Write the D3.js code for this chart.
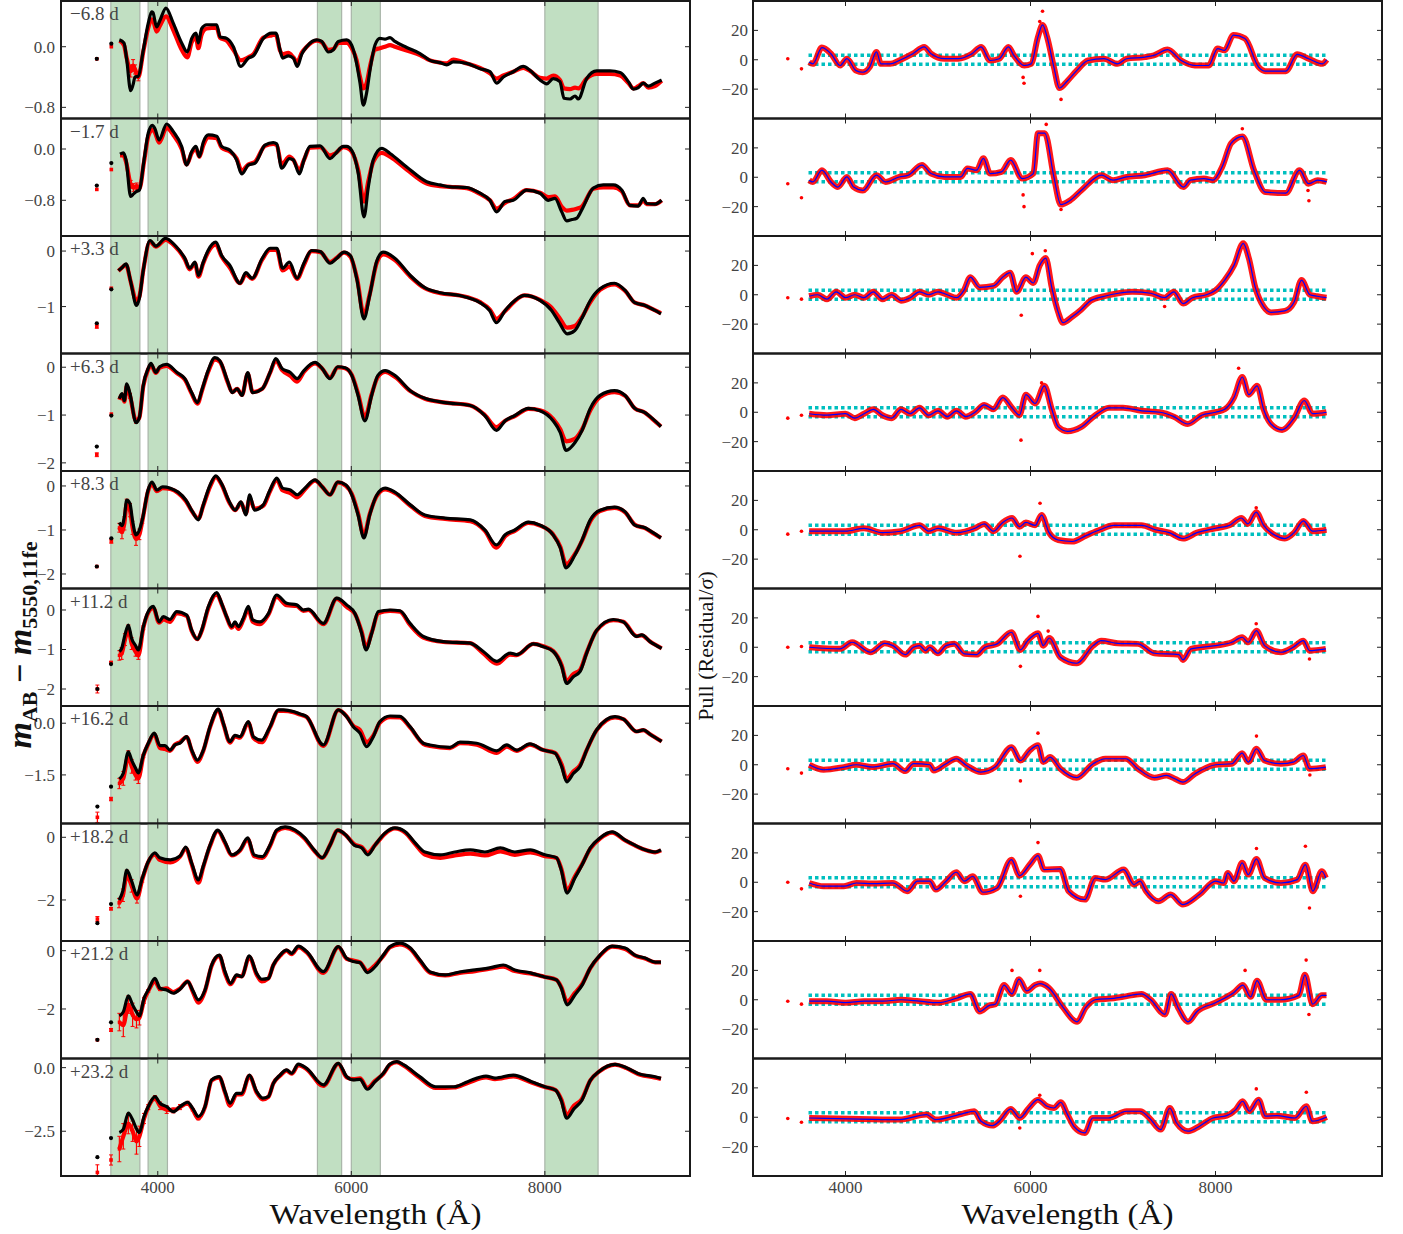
<!DOCTYPE html>
<html><head><meta charset="utf-8">
<script src="https://cdn.jsdelivr.net/npm/d3@7"></script>
<style>body{margin:0;background:#fff}</style>
</head><body>
<svg id="c" width="1403" height="1234" xmlns="http://www.w3.org/2000/svg"></svg>
<script>
// ---------------- DATA ----------------
const phases = ["\u22126.8 d","\u22121.7 d","+3.3 d","+6.3 d","+8.3 d","+11.2 d","+16.2 d","+18.2 d","+21.2 d","+23.2 d"];
const xTicks = [4000, 6000, 8000];
const leftXDomain = [3000, 9500];
const rightXDomain = [3000, 9800];
const leftYDomains = [[-0.947,0.603],[-1.357,0.476],[-1.845,0.271],[-2.17,0.287],[-2.33,0.34],[-2.43,0.544],[-2.91,0.50],[-3.31,0.44],[-3.70,0.333],[-4.26,0.36]];
const leftYTicks = [[0,-0.8],[0,-0.8],[0,-1],[0,-1,-2],[0,-1,-2],[0,-1,-2],[0,-1.5],[0,-2],[0,-2],[0,-2.5]];
const leftYFormat = [".1f",".1f","d","d","d","d",".1f","d","d",".1f"];
const rightYDomain = [-40, 40];
const rightYTicks = [20, 0, -20];
const bands = [[3515,3815],[3900,4100],[5650,5900],[6000,6300],[8000,8550]];
const pullBand = [-3, 3];
const pullRange = [3600, 9200];

// isolated photometric points: [wavelength, model, data, dataErr]
const iso1 = [[3370,-0.16,-0.16,0],[3520,0.04,0.0,0]];
const iso2 = [[3370,-0.57,-0.63,0],[3520,-0.22,-0.32,0]];
const iso3 = [[3370,-1.30,-1.36,0.03],[3520,-0.69,-0.67,0]];
const iso4 = [[3370,-1.66,-1.83,0.04],[3520,-1.01,-0.98,0]];
const iso5 = [[3370,-1.83,-1.83,0],[3520,-1.19,-1.26,0.04]];
const iso6 = [[3376,-2.0,-2.0,0.1],[3517,-1.37,-1.33,0.03]];
const iso7 = [[3376,-2.42,-2.73,0.15],[3517,-1.84,-2.20,0.05]];
const iso8 = [[3376,-2.74,-2.61,0.08],[3517,-2.13,-2.28,0.04]];
const iso9 = [[3376,-3.06,-3.06,0],[3517,-2.46,-2.72,0.05]];
const iso10 = [[3376,-3.52,-4.12,0.3],[3517,-2.77,-3.63,0.2]];

// spectra: [wavelength, model (black), data (red), dataErr]
const spec1 = [[3603,0.09,0.08],[3651,0.05,0.02],[3679,-0.17,-0.15],[3720,-0.58,-0.32,0.08],[3745,-0.50,-0.25,0.08],[3765,-0.40,-0.30,0.06],[3799,-0.39,-0.40,0.05],[3851,-0.04,-0.06],[3902,0.31,0.25],[3937,0.46,0.36],[3950,0.45,0.35],[3988,0.26,0.20],[4020,0.34,0.27],[4085,0.51,0.40],[4160,0.31,0.22],[4247,0.05,-0.04],[4305,-0.07,-0.14],[4351,0.11,0.06],[4395,0.18,0.12],[4419,0.05,-0.02],[4453,0.24,0.16],[4505,0.29,0.24],[4609,0.29,0.25],[4643,0.13,0.12],[4712,0.11,0.08],[4781,0.0,-0.04],[4857,-0.26,-0.18],[4936,-0.15,-0.14],[4988,-0.12,-0.10],[5091,0.11,0.12],[5177,0.18,0.15],[5220,0.18,0.16],[5263,-0.04,-0.05],[5291,-0.15,-0.10],[5350,-0.12,-0.08],[5401,-0.15,-0.14],[5442,-0.26,-0.20],[5487,-0.10,-0.08],[5539,0.0,0.0],[5642,0.09,0.08],[5694,0.07,0.06],[5763,-0.07,-0.04],[5815,-0.04,-0.03],[5866,0.07,0.05],[5952,0.09,0.05],[6004,0.02,-0.02],[6055,-0.22,-0.18],[6090,-0.48,-0.40],[6124,-0.77,-0.55],[6158,-0.61,-0.48],[6193,-0.31,-0.26],[6244,0.02,-0.04],[6296,0.11,-0.02],[6348,0.10,0.0],[6400,0.12,0.02],[6451,0.07,0.0],[6572,-0.01,-0.05],[6710,-0.09,-0.11],[6813,-0.18,-0.18],[6917,-0.21,-0.21],[6986,-0.24,-0.22],[7054,-0.20,-0.17],[7192,-0.22,-0.22],[7330,-0.29,-0.28],[7433,-0.33,-0.35],[7502,-0.48,-0.42],[7571,-0.40,-0.38],[7674,-0.33,-0.33],[7777,-0.26,-0.28],[7846,-0.31,-0.32],[7950,-0.44,-0.41],[8019,-0.49,-0.42],[8087,-0.42,-0.38],[8156,-0.46,-0.44],[8198,-0.68,-0.55],[8260,-0.69,-0.56],[8312,-0.65,-0.54],[8346,-0.69,-0.55],[8432,-0.42,-0.42],[8536,-0.32,-0.36],[8673,-0.32,-0.36],[8777,-0.34,-0.38],[8863,-0.46,-0.48],[8915,-0.56,-0.55],[8966,-0.54,-0.52],[9017,-0.48,-0.48],[9069,-0.52,-0.54],[9138,-0.48,-0.52],[9207,-0.44,-0.45]];
const spec2 = [[3610,-0.08,-0.10],[3644,-0.06,-0.10],[3672,-0.17,-0.20],[3720,-0.74,-0.55,0.06],[3750,-0.70,-0.60,0.06],[3782,-0.66,-0.58,0.05],[3810,-0.64,-0.62],[3858,-0.17,-0.20],[3902,0.25,0.20],[3944,0.37,0.30],[3970,0.32,0.26],[4013,0.14,0.10],[4092,0.39,0.33],[4161,0.27,0.22],[4247,0.04,0.0],[4299,-0.25,-0.24],[4351,-0.04,-0.06],[4395,0.04,0.0],[4430,-0.12,-0.12],[4471,0.11,0.06],[4523,0.22,0.18],[4609,0.20,0.17],[4660,0.04,0.02],[4746,-0.02,-0.04],[4815,-0.17,-0.15],[4867,-0.39,-0.34],[4936,-0.25,-0.24],[5005,-0.22,-0.20],[5108,0.06,0.05],[5194,0.10,0.08],[5229,0.08,0.06],[5280,-0.30,-0.24],[5360,-0.15,-0.12],[5401,-0.17,-0.17],[5463,-0.39,-0.33],[5511,-0.17,-0.17],[5573,0.04,0.02],[5677,0.05,0.03],[5780,-0.15,-0.10],[5832,-0.08,-0.07],[5918,0.04,0.03],[5952,0.04,0.02],[6004,-0.02,-0.04],[6072,-0.38,-0.33],[6131,-1.06,-0.82],[6176,-0.59,-0.50],[6227,-0.17,-0.20],[6314,0.01,-0.06],[6400,-0.07,-0.12],[6572,-0.28,-0.32],[6779,-0.51,-0.54],[6917,-0.56,-0.58],[7020,-0.59,-0.59],[7192,-0.60,-0.61],[7330,-0.69,-0.70],[7433,-0.80,-0.80],[7502,-0.98,-0.93],[7588,-0.82,-0.84],[7674,-0.80,-0.78],[7812,-0.64,-0.64],[7950,-0.69,-0.68],[8036,-0.80,-0.75],[8105,-0.77,-0.74],[8174,-0.98,-0.90],[8226,-1.12,-0.96],[8280,-1.10,-0.95],[8329,-1.08,-0.93],[8381,-0.95,-0.90],[8501,-0.61,-0.62],[8604,-0.56,-0.60],[8708,-0.56,-0.60],[8794,-0.64,-0.66],[8880,-0.88,-0.88],[8966,-0.89,-0.88],[9017,-0.77,-0.80],[9052,-0.85,-0.86],[9138,-0.86,-0.86],[9207,-0.80,-0.80]];
const spec3 = [[3593,-0.35,-0.36],[3630,-0.30,-0.30],[3672,-0.23,-0.25],[3720,-0.55,-0.55],[3780,-0.98,-0.90,0.05],[3810,-0.85,-0.82],[3850,-0.35,-0.35],[3920,0.19,0.17],[3980,0.09,0.08],[4080,0.23,0.20],[4180,0.10,0.08],[4280,-0.13,-0.15],[4330,-0.31,-0.33],[4385,-0.20,-0.22],[4420,-0.44,-0.46],[4470,-0.20,-0.22],[4520,0.01,-0.02],[4600,0.16,0.12],[4660,-0.08,-0.10],[4745,-0.26,-0.30],[4850,-0.58,-0.58],[4910,-0.39,-0.42],[4975,-0.49,-0.50],[5080,-0.13,-0.15],[5160,0.05,0.02],[5230,0.05,0.02],[5290,-0.31,-0.35],[5360,-0.20,-0.28],[5440,-0.49,-0.50],[5510,-0.22,-0.25],[5590,0.01,0.0],[5680,-0.01,-0.02],[5780,-0.22,-0.20],[5850,-0.13,-0.12],[5925,-0.02,-0.03],[5990,-0.08,-0.10],[6060,-0.53,-0.50],[6130,-1.22,-1.15],[6190,-0.80,-0.78],[6265,-0.17,-0.20],[6330,-0.02,-0.06],[6450,-0.13,-0.16],[6610,-0.44,-0.46],[6760,-0.66,-0.67],[6920,-0.75,-0.76],[7120,-0.80,-0.80],[7330,-0.93,-0.92],[7430,-1.07,-1.05],[7500,-1.29,-1.22],[7590,-1.07,-1.08],[7690,-0.89,-0.90],[7790,-0.80,-0.80],[7950,-0.89,-0.88],[8070,-1.07,-1.02],[8150,-1.29,-1.20],[8230,-1.49,-1.38],[8310,-1.43,-1.35],[8380,-1.22,-1.20],[8470,-0.89,-0.92],[8570,-0.68,-0.70],[8720,-0.58,-0.60],[8830,-0.71,-0.72],[8930,-0.93,-0.93],[9035,-0.98,-0.98],[9140,-1.07,-1.07],[9200,-1.13,-1.12]];
const spec4 = [[3603,-0.66,-0.68],[3630,-0.55,-0.58],[3655,-0.70,-0.72],[3679,-0.35,-0.40],[3713,-0.55,-0.60,0.05],[3775,-1.16,-1.12,0.05],[3810,-1.05,-1.05],[3850,-0.38,-0.40],[3900,-0.03,-0.05],[3930,0.08,0.05],[3980,-0.11,-0.12],[4020,0.01,-0.01],[4090,0.06,0.03],[4200,-0.11,-0.13],[4280,-0.24,-0.26],[4350,-0.53,-0.55],[4410,-0.74,-0.76],[4460,-0.45,-0.47],[4520,-0.07,-0.10],[4590,0.20,0.16],[4640,0.14,0.12],[4720,-0.28,-0.30],[4770,-0.53,-0.52],[4820,-0.45,-0.45],[4870,-0.59,-0.58],[4930,-0.11,-0.14],[4980,-0.53,-0.52],[5080,-0.45,-0.45],[5160,-0.11,-0.12],[5220,0.18,0.14],[5285,-0.03,-0.06],[5370,-0.11,-0.18],[5440,-0.24,-0.30],[5510,-0.07,-0.10],[5625,0.10,0.08],[5700,-0.03,-0.03],[5780,-0.24,-0.22],[5860,0.01,0.0],[5935,-0.01,-0.02],[6005,-0.17,-0.16],[6070,-0.59,-0.55],[6140,-1.12,-1.05],[6210,-0.59,-0.57],[6275,-0.17,-0.20],[6350,-0.07,-0.10],[6450,-0.17,-0.20],[6610,-0.49,-0.50],[6760,-0.65,-0.66],[6970,-0.74,-0.74],[7230,-0.80,-0.80],[7380,-1.01,-1.00],[7500,-1.32,-1.25],[7590,-1.12,-1.12],[7690,-1.01,-1.02],[7830,-0.86,-0.87],[7950,-0.91,-0.90],[8085,-1.12,-1.08],[8160,-1.37,-1.30],[8220,-1.74,-1.55],[8310,-1.58,-1.50],[8385,-1.32,-1.30],[8470,-0.86,-0.90],[8570,-0.59,-0.62],[8720,-0.49,-0.52],[8830,-0.59,-0.60],[8930,-0.86,-0.86],[9035,-0.95,-0.95],[9110,-1.07,-1.08],[9200,-1.24,-1.24]];
const spec5 = [[3603,-0.83,-0.95,0.1],[3630,-0.90,-1.05,0.15],[3655,-0.70,-0.85,0.15],[3679,-0.32,-0.40,0.1],[3713,-0.40,-0.55,0.15],[3740,-0.80,-0.95,0.15],[3775,-1.11,-1.20,0.15],[3810,-1.00,-1.10,0.12],[3840,-0.77,-0.80,0.05],[3900,-0.09,-0.12],[3940,0.09,0.05],[3990,-0.09,-0.12],[4050,-0.02,-0.05],[4130,-0.05,-0.07],[4210,-0.14,-0.16],[4290,-0.32,-0.34],[4360,-0.59,-0.60],[4420,-0.77,-0.74],[4470,-0.43,-0.45],[4540,0.02,-0.02],[4600,0.23,0.20],[4660,0.05,0.03],[4740,-0.36,-0.38],[4800,-0.55,-0.55],[4860,-0.36,-0.38],[4910,-0.66,-0.62],[4950,-0.20,-0.28],[5000,-0.55,-0.52],[5090,-0.43,-0.45],[5160,-0.09,-0.12],[5230,0.18,0.14],[5290,-0.05,-0.10],[5370,-0.09,-0.16],[5440,-0.20,-0.26],[5520,-0.05,-0.08],[5625,0.14,0.12],[5700,-0.02,-0.02],[5780,-0.20,-0.20],[5860,0.09,0.08],[5945,0.02,0.0],[6005,-0.20,-0.18],[6070,-0.66,-0.62],[6130,-1.18,-1.12],[6190,-0.66,-0.64],[6265,-0.20,-0.22],[6350,-0.05,-0.08],[6450,-0.14,-0.16],[6610,-0.43,-0.45],[6760,-0.66,-0.68],[6970,-0.73,-0.75],[7230,-0.77,-0.80],[7380,-1.00,-1.02],[7500,-1.34,-1.40],[7590,-1.11,-1.14],[7690,-1.00,-1.02],[7830,-0.82,-0.84],[7950,-0.89,-0.90],[8085,-1.11,-1.10],[8160,-1.41,-1.38],[8220,-1.86,-1.78],[8310,-1.57,-1.55],[8385,-1.23,-1.24],[8470,-0.77,-0.80],[8570,-0.55,-0.57],[8720,-0.48,-0.50],[8830,-0.59,-0.60],[8930,-0.89,-0.88],[9035,-0.95,-0.96],[9110,-1.05,-1.06],[9200,-1.18,-1.18]];
const spec6 = [[3603,-1.05,-1.15,0.12],[3627,-0.97,-1.10,0.15],[3661,-0.63,-0.75,0.15],[3696,-0.38,-0.50,0.12],[3730,-0.72,-0.85,0.15],[3770,-0.90,-1.05,0.12],[3799,-1.01,-1.15,0.1],[3851,-0.42,-0.45,0.05],[3892,-0.09,-0.12],[3954,0.09,0.05],[4013,-0.30,-0.32],[4058,-0.17,-0.24],[4126,-0.24,-0.30],[4195,-0.04,-0.08],[4299,-0.13,-0.15],[4350,-0.51,-0.53],[4409,-0.74,-0.74],[4454,-0.51,-0.53],[4523,0.09,0.05],[4609,0.44,0.40],[4660,0.17,0.15],[4712,-0.17,-0.18],[4764,-0.42,-0.45],[4798,-0.30,-0.35],[4833,-0.42,-0.48],[4884,-0.21,-0.25],[4936,0.09,0.02],[4981,-0.25,-0.30],[5057,-0.30,-0.36],[5143,-0.09,-0.12],[5229,0.38,0.33],[5332,0.17,0.12],[5436,0.13,0.10],[5504,0.0,-0.02],[5556,0.02,0.0],[5711,-0.34,-0.36],[5849,0.30,0.28],[5952,0.13,0.08],[6038,-0.09,-0.10],[6107,-0.59,-0.55],[6152,-1.01,-0.95],[6211,-0.59,-0.57],[6279,-0.04,-0.08],[6400,0.0,-0.02],[6503,-0.02,-0.04],[6607,-0.34,-0.38],[6744,-0.67,-0.70],[6951,-0.80,-0.81],[7227,-0.84,-0.84],[7364,-1.05,-1.10],[7502,-1.30,-1.36],[7640,-1.09,-1.13],[7709,-1.13,-1.14],[7881,-0.86,-0.86],[7984,-0.93,-0.92],[8087,-1.05,-1.04],[8174,-1.43,-1.40],[8226,-1.86,-1.80],[8294,-1.69,-1.62],[8363,-1.56,-1.52],[8432,-1.09,-1.08],[8536,-0.51,-0.52],[8708,-0.24,-0.26],[8811,-0.30,-0.30],[8949,-0.67,-0.66],[9001,-0.63,-0.64],[9087,-0.80,-0.80],[9207,-0.97,-0.97]];
const spec7 = [[3603,-1.62,-1.75,0.15],[3644,-1.45,-1.60,0.2],[3696,-0.83,-0.95,0.15],[3730,-1.07,-1.25,0.2],[3770,-1.30,-1.50,0.15],[3799,-1.44,-1.60,0.15],[3851,-0.92,-0.95,0.05],[3902,-0.58,-0.60],[3964,-0.29,-0.32],[4023,-0.65,-0.72],[4075,-0.65,-0.75],[4126,-0.78,-0.80],[4178,-0.63,-0.62],[4230,-0.58,-0.55],[4299,-0.39,-0.40],[4351,-0.78,-0.80],[4409,-1.07,-1.12],[4471,-0.78,-0.80],[4540,-0.10,-0.12],[4626,0.41,0.38],[4678,0.0,-0.02],[4746,-0.53,-0.56],[4798,-0.35,-0.38],[4850,-0.39,-0.42],[4936,0.05,0.02],[4988,-0.39,-0.42],[5074,-0.49,-0.55],[5160,-0.10,-0.12],[5246,0.39,0.36],[5298,0.39,0.36],[5401,0.34,0.32],[5470,0.27,0.25],[5539,0.19,0.18],[5711,-0.63,-0.66],[5866,0.39,0.38],[5952,0.19,0.20],[6021,-0.10,-0.08],[6090,-0.29,-0.20],[6158,-0.68,-0.55],[6227,-0.39,-0.36],[6296,0.05,0.02],[6400,0.21,0.18],[6503,0.20,0.17],[6607,-0.10,-0.12],[6744,-0.58,-0.60],[6813,-0.63,-0.66],[7020,-0.70,-0.72],[7123,-0.55,-0.58],[7296,-0.58,-0.62],[7502,-0.80,-0.86],[7606,-0.63,-0.68],[7709,-0.78,-0.80],[7846,-0.60,-0.62],[7984,-0.78,-0.78],[8105,-0.87,-0.86],[8174,-1.26,-1.20],[8226,-1.70,-1.62],[8294,-1.46,-1.40],[8363,-1.26,-1.22],[8432,-0.78,-0.78],[8536,-0.19,-0.20],[8725,0.19,0.17],[8811,0.12,0.12],[8949,-0.24,-0.24],[9018,-0.19,-0.20],[9087,-0.32,-0.32],[9207,-0.53,-0.53]];
const spec8 = [[3600,-2.0,-2.1,0.15],[3640,-1.70,-1.85,0.2],[3680,-1.05,-1.20,0.15],[3730,-1.40,-1.55,0.2],[3785,-1.84,-1.95,0.15],[3840,-1.30,-1.35,0.08],[3900,-0.79,-0.80],[3970,-0.50,-0.55],[4020,-0.65,-0.72],[4130,-0.72,-0.80],[4230,-0.60,-0.62],[4290,-0.31,-0.35],[4350,-0.82,-0.85],[4420,-1.36,-1.45],[4470,-0.92,-0.95],[4540,-0.25,-0.28],[4620,0.23,0.20],[4695,-0.15,-0.18],[4765,-0.56,-0.58],[4850,-0.40,-0.42],[4930,-0.02,-0.06],[4995,-0.56,-0.60],[5080,-0.62,-0.66],[5160,-0.25,-0.28],[5230,0.23,0.20],[5315,0.33,0.30],[5420,0.23,0.20],[5520,-0.02,-0.05],[5615,-0.40,-0.42],[5700,-0.65,-0.66],[5780,-0.25,-0.25],[5860,0.23,0.22],[5945,0.07,0.06],[6030,-0.25,-0.22],[6110,-0.34,-0.32],[6170,-0.56,-0.50],[6245,-0.25,-0.25],[6350,0.14,0.12],[6450,0.30,0.28],[6560,0.17,0.14],[6660,-0.18,-0.22],[6760,-0.47,-0.55],[6920,-0.56,-0.66],[7070,-0.47,-0.58],[7230,-0.40,-0.52],[7380,-0.47,-0.58],[7540,-0.34,-0.45],[7690,-0.47,-0.56],[7850,-0.40,-0.48],[8000,-0.56,-0.60],[8120,-0.65,-0.66],[8170,-1.05,-1.0],[8230,-1.78,-1.68],[8310,-1.30,-1.25],[8385,-0.88,-0.86],[8470,-0.34,-0.36],[8570,-0.02,-0.04],[8695,0.17,0.15],[8830,-0.09,-0.10],[8930,-0.25,-0.26],[9035,-0.40,-0.40],[9140,-0.47,-0.48],[9200,-0.40,-0.42]];
const spec9 = [[3603,-2.24,-2.45,0.3],[3644,-2.10,-2.55,0.4],[3696,-1.55,-1.85,0.3],[3740,-1.86,-2.20,0.4],[3780,-2.10,-2.35,0.3],[3810,-2.24,-2.30,0.25],[3858,-1.63,-1.70,0.1],[3902,-1.35,-1.38,0.05],[3971,-0.95,-1.05,0.05],[4023,-1.29,-1.32,0.05],[4092,-1.35,-1.30,0.05],[4161,-1.46,-1.42],[4230,-1.32,-1.30],[4309,-1.06,-1.05],[4361,-1.36,-1.40],[4419,-1.69,-1.78],[4488,-1.35,-1.38],[4557,-0.49,-0.52],[4636,-0.15,-0.18],[4695,-0.72,-0.78],[4753,-1.12,-1.15],[4815,-0.83,-0.86],[4867,-0.89,-0.88],[4946,-0.18,-0.22],[5022,-0.78,-0.82],[5074,-0.98,-1.05],[5143,-0.95,-0.95],[5194,-0.49,-0.50],[5263,-0.15,-0.18],[5332,0.02,0.0],[5384,-0.09,-0.12],[5453,0.16,0.12],[5539,-0.03,-0.06],[5711,-0.72,-0.76],[5866,0.14,0.12],[5952,-0.26,-0.28],[6021,-0.37,-0.34],[6090,-0.41,-0.40],[6166,-0.75,-0.70],[6245,-0.55,-0.50],[6331,-0.15,-0.18],[6400,0.14,0.12],[6500,0.26,0.22],[6610,0.09,0.06],[6710,-0.32,-0.36],[6815,-0.73,-0.76],[6970,-0.83,-0.85],[7120,-0.73,-0.76],[7280,-0.66,-0.70],[7430,-0.59,-0.62],[7570,-0.49,-0.55],[7690,-0.66,-0.70],[7850,-0.76,-0.78],[8000,-0.90,-0.90],[8120,-1.0,-1.0],[8170,-1.28,-1.25],[8230,-1.86,-1.75],[8310,-1.52,-1.45],[8385,-1.18,-1.15],[8470,-0.59,-0.60],[8570,-0.15,-0.17],[8695,0.16,0.14],[8830,0.09,0.06],[8930,-0.15,-0.16],[9035,-0.25,-0.27],[9140,-0.39,-0.40],[9200,-0.39,-0.40]];
const spec10 = [[3603,-2.55,-3.2,0.5],[3644,-2.42,-2.7,0.5],[3696,-1.79,-2.2,0.4],[3740,-2.05,-2.5,0.4],[3780,-2.40,-2.9,0.5],[3810,-2.55,-2.7,0.4],[3858,-1.92,-2.0,0.2],[3902,-1.53,-1.55,0.1],[3971,-1.14,-1.20,0.1],[4023,-1.40,-1.50,0.15],[4092,-1.53,-1.65,0.15],[4161,-1.73,-1.68,0.1],[4230,-1.53,-1.55,0.1],[4309,-1.36,-1.40,0.08],[4361,-1.60,-1.65,0.05],[4419,-1.92,-2.0,0.05],[4488,-1.53,-1.55],[4557,-0.48,-0.50],[4636,-0.35,-0.38],[4695,-0.94,-0.98],[4746,-1.40,-1.50],[4815,-1.01,-1.05],[4867,-1.01,-1.05],[4946,-0.29,-0.32],[5022,-0.94,-0.98],[5084,-1.20,-1.25],[5143,-1.14,-1.15],[5194,-0.62,-0.62],[5263,-0.29,-0.32],[5332,-0.09,-0.12],[5384,-0.22,-0.24],[5453,0.14,0.10],[5539,-0.03,-0.06],[5711,-0.68,-0.72],[5866,0.17,0.15],[5952,-0.35,-0.38],[6021,-0.48,-0.45],[6090,-0.46,-0.42],[6166,-0.85,-0.80],[6245,-0.55,-0.52],[6331,-0.22,-0.24],[6400,0.14,0.12],[6470,0.24,0.22],[6543,0.11,0.08],[6707,-0.35,-0.40],[6872,-0.75,-0.80],[7061,-0.75,-0.78],[7203,-0.55,-0.60],[7392,-0.33,-0.38],[7485,-0.41,-0.45],[7674,-0.29,-0.34],[7863,-0.55,-0.58],[8000,-0.75,-0.76],[8110,-0.88,-0.88],[8170,-1.30,-1.25],[8226,-1.99,-1.85],[8300,-1.62,-1.50],[8380,-1.30,-1.25],[8470,-0.50,-0.50],[8560,-0.15,-0.16],[8725,0.13,0.12],[8843,0.0,-0.02],[8985,-0.26,-0.28],[9128,-0.35,-0.38],[9200,-0.42,-0.44]];

// pull residuals (smoothed trend, blue): [wavelength, pull]
const pull1 = [[3607,-1.6],[3647,-2.8],[3745,8.3],[3843,4.1],[3942,-3.9],[4015,0.7],[4114,-7.4],[4187,-8.5],[4261,-5],[4335,5.3],[4384,-2.8],[4483,-2.8],[4581,-0.5],[4728,4.1],[4851,8.7],[4925,4.1],[5073,0.7],[5220,0.7],[5367,4.1],[5466,8.7],[5564,-0.5],[5663,0.7],[5761,8.7],[5820,3],[5933,-3.9],[6007,-2.8],[6081,15.6],[6130,23.7],[6179,15.6],[6253,-5],[6312,-19.3],[6400,-14.3],[6499,-7.4],[6622,-0.5],[6794,0.7],[6941,-2.8],[7039,0.7],[7236,1.8],[7334,3],[7482,6.9],[7629,-0.5],[7777,-3.9],[7925,-3.9],[8023,7.6],[8097,6.4],[8195,16.8],[8318,14.5],[8466,-5],[8539,-7.8],[8760,-7.8],[8883,3.7],[9006,0.7],[9154,-2.8],[9203,0]];
const pull2 = [[3607,-2],[3647,-3.2],[3745,4.8],[3843,-3.2],[3917,-6.7],[4015,0.2],[4089,-6.7],[4187,-9],[4335,1.4],[4433,-3.2],[4581,0.2],[4679,1.4],[4827,8.3],[4925,2.5],[5073,0.2],[5245,0.2],[5318,6],[5417,4.8],[5491,12.9],[5564,2.5],[5687,3.7],[5786,11.7],[5909,-0.9],[6031,2.5],[6081,30],[6154,30],[6253,0.2],[6327,-18.6],[6425,-15.9],[6548,-9],[6769,1.4],[6892,-2],[7039,0.2],[7236,1.4],[7482,4.8],[7654,-6.7],[7728,-2],[7875,-0.9],[7973,-2],[8072,7.1],[8170,23.2],[8293,27.8],[8416,4.8],[8539,-10.1],[8760,-10.8],[8908,4.8],[9006,-4.4],[9105,-2],[9203,-3.2]];
const pull3 = [[3607,-1],[3700,0],[3800,-3],[3900,2],[4000,-2],[4100,0],[4200,-2],[4300,2],[4400,-3],[4500,0],[4600,-4],[4700,-2],[4800,2],[4900,0],[5000,2],[5100,0],[5200,-2],[5280,3],[5350,12],[5450,5],[5600,6],[5700,12],[5780,15],[5850,2],[5950,12],[6030,8],[6100,20],[6165,25],[6230,5],[6300,-12],[6350,-19],[6450,-15],[6550,-10],[6650,-4],[6800,-1],[6950,1],[7100,2],[7300,1],[7450,-2],[7550,2],[7650,-6],[7750,-2],[7900,0],[8000,3],[8100,10],[8200,20],[8300,35],[8360,25],[8430,5],[8520,-8],[8600,-12],[8750,-11],[8850,-5],[8930,10],[9020,0],[9100,-1],[9200,-2]];
const pull4 = [[3607,-1],[3800,-2],[4000,-1],[4100,-4],[4200,-1],[4300,2],[4400,-2],[4500,-4],[4600,2],[4700,-1],[4800,3],[4900,-2],[5000,1],[5100,-3],[5200,1],[5300,-3],[5400,0],[5500,5],[5600,2],[5700,10],[5800,3],[5880,-2],[5950,12],[6050,6],[6150,18],[6230,2],[6300,-10],[6400,-13],[6550,-10],[6700,-2],[6850,3],[7000,3],[7200,1],[7400,0],[7550,-3],[7700,-8],[7850,-2],[8000,0],[8100,2],[8200,10],[8290,24],[8360,12],[8450,18],[8520,2],[8600,-8],[8720,-12],[8850,-4],[8960,8],[9050,-1],[9200,0]];
const pull5 = [[3607,-1],[3800,-1],[4000,-1],[4200,1],[4400,-2],[4600,-1],[4800,3],[4900,-1],[5000,1],[5200,-2],[5400,1],[5500,4],[5600,-1],[5700,5],[5800,8],[5880,2],[5950,5],[6050,3],[6120,10],[6200,-2],[6300,-7],[6450,-8],[6600,-4],[6750,0],[6900,3],[7050,3],[7200,3],[7350,0],[7500,-2],[7650,-6],[7800,-2],[8000,1],[8150,3],[8280,8],[8350,4],[8440,12],[8520,3],[8650,-4],[8750,-6],[8850,-2],[8950,6],[9050,-1],[9200,0]];
const pull6 = [[3608,0],[3939,-1.1],[4072,3.4],[4270,-3.4],[4425,2.7],[4513,1.1],[4646,-5],[4734,0],[4800,1.1],[4866,-2.3],[4911,0],[4999,-4.1],[5087,1.1],[5176,2.3],[5286,-4.5],[5418,-5],[5507,0],[5639,2.3],[5794,10.2],[5891,-1.8],[5970,4.5],[6081,9.5],[6138,1.1],[6204,6.3],[6323,-6.8],[6500,-10.9],[6677,1.1],[6765,4.5],[6942,2.7],[7162,2.3],[7339,-4.1],[7604,-5],[7648,-8.6],[7736,-1.1],[8001,1.1],[8178,3.4],[8288,6.8],[8354,3.4],[8443,11.3],[8531,1.1],[8708,-3.4],[8840,0],[8950,4.5],[9016,-2.3],[9193,-1.1]];
const pull7 = [[3608,0],[3763,-3.4],[3983,-1.6],[4116,0],[4293,-1.6],[4513,0.7],[4646,-4.3],[4734,0.7],[4911,0],[4955,-3.9],[5087,0.7],[5198,4.1],[5308,-0.5],[5463,-5],[5617,-1.6],[5794,12],[5891,2.9],[5992,9.8],[6081,13.2],[6138,1.8],[6213,5.2],[6323,-2.7],[6500,-8.8],[6677,0.7],[6809,4.1],[7030,4.1],[7162,-2.7],[7339,-8.8],[7471,-7.3],[7560,-9.5],[7648,-11.8],[7780,-6.1],[8001,0],[8178,0.7],[8288,7.9],[8354,1.8],[8443,10.9],[8531,2.9],[8708,0.7],[8840,1.8],[8950,6.3],[9016,-2.7],[9193,-1.6]];
const pull8 = [[3608,-0.5],[3763,-2.7],[3983,-2.7],[4116,-0.5],[4293,-0.9],[4513,-0.5],[4668,-6.1],[4778,0.7],[4911,0.7],[4977,-5],[5087,0.7],[5198,6.8],[5286,0.7],[5375,4.1],[5485,-6.8],[5639,-3.9],[5794,15.4],[5882,4.5],[5992,12],[6081,18.1],[6147,8.6],[6323,9.1],[6412,-6.1],[6588,-11.8],[6699,2.9],[6809,1.8],[7008,8.6],[7118,-1.6],[7184,0.7],[7250,-6.1],[7383,-12.9],[7516,-8.4],[7648,-15.2],[7825,-8.4],[8001,0.7],[8089,-0.5],[8133,6.3],[8200,0.7],[8288,13.2],[8354,5.2],[8443,15.9],[8531,2.9],[8708,-0.5],[8884,1.8],[8972,12],[9052,-6.1],[9149,7.5],[9193,2.9]];
const pull9 = [[3607,-1],[3800,-1],[4000,-2],[4200,-1],[4400,-1],[4600,0],[4800,-1],[5000,-2],[5200,1],[5350,4],[5450,-8],[5550,-4],[5620,-3],[5714,10],[5800,4],[5876,14],[5960,6],[6050,10],[6103,11],[6200,8],[6350,-5],[6503,-15],[6600,-5],[6700,0],[6900,1],[7000,2],[7200,4],[7300,0],[7454,-10],[7520,4],[7600,-6],[7703,-15],[7800,-8],[8000,-2],[8200,5],[8297,10],[8380,2],[8449,13],[8550,0],[8700,0],[8900,3],[8967,17],[9050,-3],[9150,3],[9200,3]];
const pull10 = [[3607,-0.5],[4040,-1.1],[4581,-1.6],[4876,1.8],[4974,-1.6],[5269,2.5],[5392,4.1],[5466,-2.7],[5589,-5.7],[5663,-2.7],[5786,5.7],[5884,-0.5],[5982,6.3],[6081,12],[6179,7.5],[6253,6.3],[6327,10.2],[6400,1.8],[6474,-6.6],[6587,-10.7],[6671,-0.5],[6843,-0.5],[7039,4.1],[7187,4.1],[7285,-0.5],[7408,-8.4],[7506,6.3],[7580,-3.9],[7703,-9.5],[7826,-6.1],[7973,-0.5],[8121,1.1],[8219,5.2],[8293,10.9],[8367,4.1],[8466,12],[8539,0.7],[8662,1.1],[8859,-0.5],[8982,7.5],[9046,-2.7],[9203,0.2]];

// isolated pull points and outlying pull points: [wavelength, pull]
const pullIso = [[[3376,0.7],[3524,-6.2]],[[3376,-4.4],[3524,-14]],[[3376,-2],[3524,-3]],[[3376,-4],[3524,-2]],[[3376,-3],[3524,-1]],[[3376,0],[3524,0.5]],[[3376,-2.7],[3524,-5.7]],[[3376,0],[3524,-4.5]],[[3376,-1],[3524,-3]],[[3376,-0.9],[3524,-3.4]]];
const pullOut = [
  [[5920,-12],[5930,-16],[6130,33],[6100,26],[6330,-27]],
  [[5920,-12],[5930,-20],[6170,36],[8290,33],[9000,-9],[9010,-16],[6330,-22]],
  [[5900,-14],[6020,28],[6160,30],[7450,-8]],
  [[5897,-19],[6120,20],[8250,30]],
  [[5886,-18],[6103,18],[8440,15]],
  [[5891,-13],[6081,21],[6191,11],[8440,16],[9016,-8]],
  [[5891,-11],[6081,21.5],[8443,19.5],[9020,-7]],
  [[5891,-9.5],[6081,27],[8972,24.5],[9016,-17.5],[8443,23]],
  [[5800,20],[6100,20],[8980,27],[9010,-10],[8320,20]],
  [[5884,-7.3],[8441,19.3],[8982,17],[6100,15]]
];

const specs = [spec1,spec2,spec3,spec4,spec5,spec6,spec7,spec8,spec9,spec10];
const isos = [iso1,iso2,iso3,iso4,iso5,iso6,iso7,iso8,iso9,iso10];
const pulls = [pull1,pull2,pull3,pull4,pull5,pull6,pull7,pull8,pull9,pull10];

// ---------------- DRAW ----------------
const svg = d3.select("#c");
const serif = "'Liberation Serif','DejaVu Serif',serif";
const LR = [61, 690], RR = [753, 1382];
const top0 = 1, ph = 117.5;
const xL = d3.scaleLinear().domain(leftXDomain).range(LR);
const xR = d3.scaleLinear().domain(rightXDomain).range(RR);
const defs = svg.append("defs");
const tickColor = "#222", labelColor = "#444";

function frame(g, x0, x1, y0, y1, xs, ys, yticks) {
  g.append("rect").attr("x",x0).attr("y",y0).attr("width",x1-x0).attr("height",y1-y0)
   .attr("fill","none").attr("stroke","#1a1a1a").attr("stroke-width",2);
  const tl = 5;
  xTicks.forEach(t => {
    const x = xs(t);
    g.append("line").attr("x1",x).attr("x2",x).attr("y1",y0).attr("y2",y0+tl).attr("stroke",tickColor).attr("stroke-width",1);
    g.append("line").attr("x1",x).attr("x2",x).attr("y1",y1).attr("y2",y1-tl).attr("stroke",tickColor).attr("stroke-width",1);
  });
  yticks.forEach(t => {
    const y = ys(t);
    g.append("line").attr("x1",x0).attr("x2",x0+tl).attr("y1",y).attr("y2",y).attr("stroke",tickColor).attr("stroke-width",1);
    g.append("line").attr("x1",x1).attr("x2",x1-tl).attr("y1",y).attr("y2",y).attr("stroke",tickColor).attr("stroke-width",1);
  });
}

for (let i = 0; i < 10; i++) {
  const y0 = top0 + i*ph, y1 = y0 + ph;

  // ---------- LEFT: spectra ----------
  const yL = d3.scaleLinear().domain(leftYDomains[i]).range([y1, y0]);
  const cidL = "clipL"+i;
  defs.append("clipPath").attr("id",cidL).append("rect")
     .attr("x",LR[0]).attr("y",y0).attr("width",LR[1]-LR[0]).attr("height",ph);
  const gL = svg.append("g");
  const gc = gL.append("g").attr("clip-path",`url(#${cidL})`);
  bands.forEach(b => {
    gc.append("rect").attr("x",xL(b[0])).attr("y",y0-2).attr("width",xL(b[1])-xL(b[0])).attr("height",ph+4)
      .attr("fill","#c1dfc2").attr("stroke","#a9b5a9").attr("stroke-width",1.2);
  });
  const spec = specs[i];
  const lineData = d3.line().x(d=>xL(d[0])).y(d=>yL(d[2])).curve(d3.curveMonotoneX);
  const lineModel = d3.line().x(d=>xL(d[0])).y(d=>yL(d[1])).curve(d3.curveMonotoneX);
  spec.filter(d=>d[3]).forEach(d => {
    const x = xL(d[0]);
    gc.append("line").attr("x1",x).attr("x2",x).attr("y1",yL(d[2]-d[3])).attr("y2",yL(d[2]+d[3])).attr("stroke","#f00").attr("stroke-width",1.2);
    [d[2]-d[3], d[2]+d[3]].forEach(v => gc.append("line").attr("x1",x-2).attr("x2",x+2).attr("y1",yL(v)).attr("y2",yL(v)).attr("stroke","#f00").attr("stroke-width",1));
  });
  gc.append("path").attr("d",lineData(spec)).attr("fill","none").attr("stroke","#f00").attr("stroke-width",4.2).attr("stroke-linejoin","round");
  spec.filter(d=>d[3]).forEach(d => {
    gc.append("rect").attr("x",xL(d[0])-1.6).attr("y",yL(d[2])-1.6).attr("width",3.2).attr("height",3.2).attr("fill","#f00");
  });
  gc.append("path").attr("d",lineModel(spec)).attr("fill","none").attr("stroke","#000").attr("stroke-width",3.2).attr("stroke-linejoin","round");
  isos[i].forEach(d => {
    const x = xL(d[0]);
    if (d[3]) {
      gc.append("line").attr("x1",x).attr("x2",x).attr("y1",yL(d[2]-d[3])).attr("y2",yL(d[2]+d[3])).attr("stroke","#f00").attr("stroke-width",1.2);
      [d[2]-d[3], d[2]+d[3]].forEach(v => gc.append("line").attr("x1",x-2).attr("x2",x+2).attr("y1",yL(v)).attr("y2",yL(v)).attr("stroke","#f00").attr("stroke-width",1));
    }
    gc.append("rect").attr("x",x-1.8).attr("y",yL(d[2])-1.8).attr("width",3.6).attr("height",3.6).attr("fill","#f00");
    gc.append("circle").attr("cx",x).attr("cy",yL(d[1])).attr("r",2.1).attr("fill","#000");
  });
  frame(gL, LR[0], LR[1], y0, y1, xL, yL, leftYTicks[i]);
  const fmt = d3.format(leftYFormat[i]);
  leftYTicks[i].forEach(t => {
    gL.append("text").attr("x",55).attr("y",yL(t)).attr("dy","0.35em").attr("text-anchor","end")
      .attr("font-family",serif).attr("font-size",17).attr("fill",labelColor).text(fmt(t));
  });
  gL.append("text").attr("x",70).attr("y",y0+19).attr("font-family",serif).attr("font-size",19)
    .attr("fill",labelColor).text(phases[i]);

  // ---------- RIGHT: pulls ----------
  const yR = d3.scaleLinear().domain(rightYDomain).range([y1, y0]);
  const cidR = "clipR"+i;
  defs.append("clipPath").attr("id",cidR).append("rect")
     .attr("x",RR[0]).attr("y",y0).attr("width",RR[1]-RR[0]).attr("height",ph);
  const gR = svg.append("g");
  const gr = gR.append("g").attr("clip-path",`url(#${cidR})`);
  pullBand.forEach(v => {
    gr.append("line").attr("x1",xR(pullRange[0])).attr("x2",xR(pullRange[1])).attr("y1",yR(v)).attr("y2",yR(v))
      .attr("stroke","#00bfbf").attr("stroke-width",3.5).attr("stroke-dasharray","3.5,3");
  });
  const pl = d3.line().x(d=>xR(d[0])).y(d=>yR(d[1])).curve(d3.curveMonotoneX);
  gr.append("path").attr("d",pl(pulls[i])).attr("fill","none").attr("stroke","#f00").attr("stroke-width",6).attr("stroke-opacity",0.9).attr("stroke-linejoin","round");
  pullIso[i].concat(pullOut[i]).forEach(d => {
    gr.append("circle").attr("cx",xR(d[0])).attr("cy",yR(d[1])).attr("r",1.8).attr("fill","#f00");
  });
  gr.append("path").attr("d",pl(pulls[i])).attr("fill","none").attr("stroke","#0000ff").attr("stroke-width",1.2).attr("stroke-linejoin","round");
  frame(gR, RR[0], RR[1], y0, y1, xR, yR, rightYTicks);
  const fmtR = d3.format("d");
  rightYTicks.forEach(t => {
    gR.append("text").attr("x",748).attr("y",yR(t)).attr("dy","0.35em").attr("text-anchor","end")
      .attr("font-family",serif).attr("font-size",17).attr("fill",labelColor).text(fmtR(t));
  });
}

// x tick labels on bottom panels
const yBottom = top0 + 10*ph;
xTicks.forEach(t => {
  svg.append("text").attr("x",xL(t)).attr("y",yBottom+17).attr("text-anchor","middle")
    .attr("font-family",serif).attr("font-size",17).attr("fill",labelColor).text(d3.format("d")(t));
  svg.append("text").attr("x",xR(t)).attr("y",yBottom+17).attr("text-anchor","middle")
    .attr("font-family",serif).attr("font-size",17).attr("fill",labelColor).text(d3.format("d")(t));
});

// axis titles
[(LR[0]+LR[1])/2, (RR[0]+RR[1])/2].forEach(cx => {
  svg.append("text").attr("x",cx).attr("y",1224).attr("text-anchor","middle")
    .attr("font-family",serif).attr("font-size",30).attr("fill","#111")
    .attr("textLength",212).attr("lengthAdjust","spacingAndGlyphs").text("Wavelength (\u00C5)");
});

const yl = svg.append("text").attr("transform","translate(31,645) rotate(-90)").attr("text-anchor","middle")
  .attr("font-family",serif).attr("font-weight","bold").attr("fill","#111");
yl.append("tspan").attr("font-style","italic").attr("font-size",34).text("m");
yl.append("tspan").attr("font-size",22).attr("dy",6).text("AB");
yl.append("tspan").attr("font-size",34).attr("dy",-6).text(" \u2212 ");
yl.append("tspan").attr("font-style","italic").attr("font-size",34).text("m");
yl.append("tspan").attr("font-size",22).attr("dy",6).text("5550,11fe");

const yr = svg.append("text").attr("transform","translate(713,646) rotate(-90)").attr("text-anchor","middle")
  .attr("font-family",serif).attr("font-size",22).attr("fill","#111");
yr.append("tspan").text("Pull (Residual/");
yr.append("tspan").attr("font-style","italic").text("\u03C3");
yr.append("tspan").text(")");
</script>
</body></html>
